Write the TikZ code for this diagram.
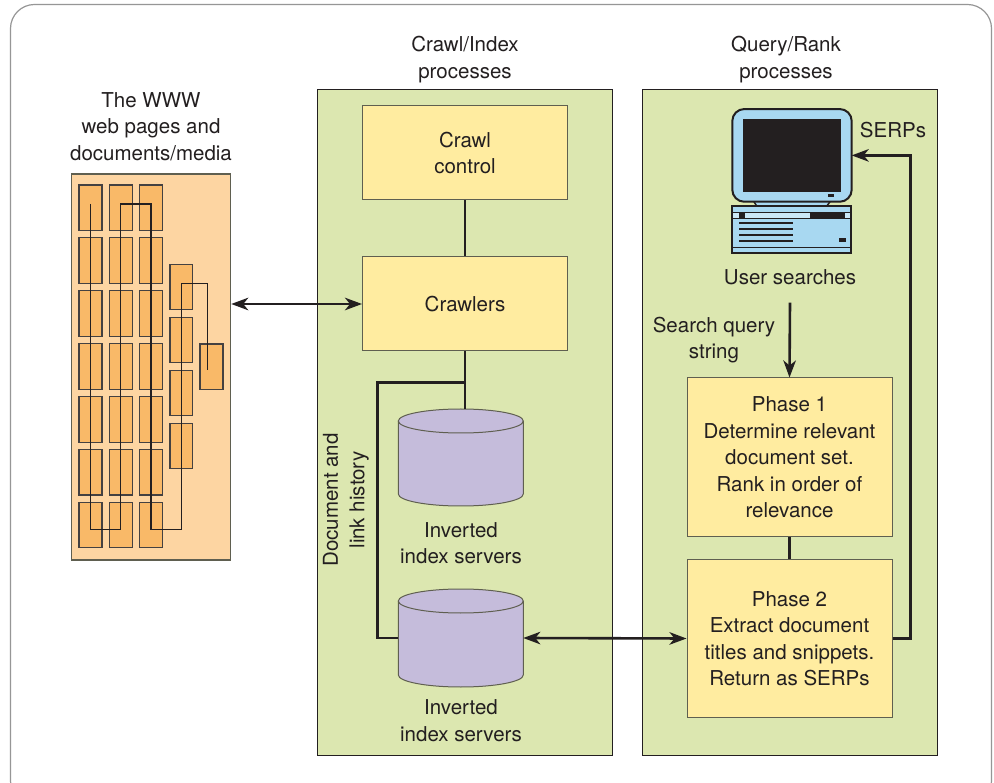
\documentclass[tikz,border=0pt]{standalone}
\usepackage{fontspec}
\setmainfont{TeX Gyre Heros}
\usetikzlibrary{arrows.meta}

\definecolor{panelgreen}{RGB}{220,231,176}
\definecolor{boxyellow}{RGB}{255,236,160}
\definecolor{webpeach}{RGB}{253,213,162}
\definecolor{pageorange}{RGB}{249,185,104}
\definecolor{drumpurple}{RGB}{197,188,219}
\definecolor{screenblue}{RGB}{168,216,241}
\definecolor{inkdark}{RGB}{35,31,32}
\definecolor{edgegray}{RGB}{95,95,80}
\definecolor{framegray}{RGB}{150,150,150}

\newcommand\lblfont{\fontsize{20.5pt}{26.5pt}\selectfont}

\begin{document}
\begin{tikzpicture}[x=1pt,y=-1pt,
  lbl/.style={font=\lblfont, text=inkdark, align=center, inner sep=0pt},
  panel/.style={draw=inkdark, line width=1pt, fill=panelgreen},
  procbox/.style={draw=edgegray, line width=1pt, fill=boxyellow, font=\lblfont,
    text=inkdark, align=center, minimum width=205pt, inner sep=0pt},
  conn/.style={draw=inkdark, line width=2.6pt},
  tip/.style={-{Stealth[length=17pt,width=12.5pt,inset=5pt]}},
  bothtips/.style={{Stealth[length=17pt,width=12.5pt,inset=5pt]}-{Stealth[length=17pt,width=12.5pt,inset=5pt]}},
  webpage/.style={draw=inkdark!85, line width=1.1pt, fill=pageorange},
  drumline/.style={draw=edgegray, line width=1pt},
  placeholder/.style={inner sep=0pt, outer sep=0pt}
]
\useasboundingbox (0,0) rectangle (994,783);
\fill[white] (0,0) rectangle (994,783);

% outer frame
\draw[framegray, line width=1.2pt, rounded corners=24pt] (10.5,4.5) rectangle (991.5,805);

% ---------------- The WWW ----------------
\node[lbl] (wwwlbl) at (151,126.5) {The WWW\\web pages and\\documents/media};
\node[draw=edgegray, line width=1.1pt, fill=webpeach, minimum width=159pt,
      minimum height=386pt, inner sep=0pt] (www) at (151.2,367) {};
\foreach \cx in {79,109.3,139.3}{
  \foreach \i in {0,...,6}{
    \draw[webpage] (\cx,185+52.9*\i) rectangle ++(23,45.5);
  }
}
\foreach \i in {0,...,3}{
  \draw[webpage] (170,264.3+53*\i) rectangle ++(22.7,45.5);
}
\draw[webpage] (200,344) rectangle (223,389.5);
\draw[inkdark, line width=1.2pt]
  (90.3,204) -- (90.3,529.3) -- (120.7,529.3) -- (120.7,204) -- (151,204)
  -- (151,529.3) -- (181.3,529.3) -- (181.3,283.3) -- (207.7,283.3) -- (207.7,370);

% ---------------- Crawl/Index processes ----------------
\node[lbl] (crawlhead) at (465,59.5) {Crawl/Index\\processes};
\node[panel, minimum width=295pt, minimum height=665pt, inner sep=0pt] (crawlpanel) at (464.5,422.5) {};
\node[procbox, minimum height=94pt] (control) at (465,153) {Crawl\\control};
\node[procbox, minimum height=94pt] (crawlers) at (465,304) {Crawlers};

% inverted index drums
\node[placeholder, minimum width=125pt, minimum height=97pt] (inv1) at (460.8,457.5) {};
\node[placeholder, minimum width=125pt, minimum height=98pt] (inv2) at (460.8,638) {};
\foreach \top/\bot in {421/494, 601/675}{
  \fill[drumpurple] (398.3,\top) -- (398.3,\bot)
     arc[start angle=180,end angle=360,x radius=62.5pt,y radius=12pt]
     -- (523.3,\top)
     arc[start angle=0,end angle=180,x radius=62.5pt,y radius=12pt] -- cycle;
  \draw[drumline] (398.3,\top) -- (398.3,\bot)
     arc[start angle=180,end angle=360,x radius=62.5pt,y radius=12pt]
     -- (523.3,\top);
  \draw[drumline] (460.8,\top) ellipse [x radius=62.5pt, y radius=12pt];
}
\node[lbl] (inv1lbl) at (461,543) {Inverted\\index servers};
\node[lbl] (inv2lbl) at (461,720.5) {Inverted\\index servers};
\node[lbl, rotate=90] (histlbl) at (346,500) {Document and\\link history};
\coordinate (histcorner) at (377.3,382.3);

% ---------------- Query/Rank processes ----------------
\node[lbl] (queryhead) at (786,59.5) {Query/Rank\\processes};
\node[panel, minimum width=295pt, minimum height=665pt, inner sep=0pt] (querypanel) at (790,422.5) {};

% user terminal
\node[placeholder, minimum width=119.4pt, minimum height=92.7pt] (monitor) at (792,155.4) {};
\draw[inkdark, line width=1.5pt, fill=screenblue]
  (753.5,201) -- (757,206.5) -- (826.5,206.5) -- (830.5,201);
\draw[inkdark, line width=2pt, fill=screenblue, rounded corners=12pt]
  (monitor.north west) rectangle (monitor.south east);
\fill[inkdark] (743.3,119.3) rectangle (840.7,191.7);
\fill[inkdark] (828.3,194.2) rectangle (834,196.8);
\draw[inkdark, line width=2pt, fill=screenblue] (732.3,206) rectangle (851,252.7);
\fill[screenblue!60!white] (733.3,212.3) rectangle (850,218.3);
\draw[inkdark, line width=0.8pt] (733.3,212.3) -- (850,212.3) (733.3,218.3) -- (850,218.3);
\fill[inkdark] (739,212.3) rectangle (745,218.3);
\fill[inkdark] (810,212.3) rectangle (845,218.3);
\foreach \yy in {223.3,229.3,235.2,241}{
  \draw[inkdark, line width=1.8pt] (739,\yy) -- (793.3,\yy);
}
\fill[inkdark] (839,238.3) rectangle (845.7,241.8);
\draw[inkdark, line width=1.2pt] (733,247.3) -- (850.3,247.3);

\node[lbl] (serps) at (893,130) {SERPs};
\node[lbl] (usersearch) at (790,277) {User searches};
\node[lbl] (querystring) at (714,340) {Search query\\string};
\coordinate (querystart) at (790,302.7);

\node[procbox, minimum height=159pt] (phase1) at (789.5,457.5)
  {Phase 1\\Determine relevant\\document set.\\Rank in order of\\relevance};
\node[procbox, minimum height=158pt] (phase2) at (789.5,638.5)
  {Phase 2\\Extract document\\titles and snippets.\\Return as SERPs};

% ---------------- connectors ----------------
\draw[conn, bothtips] (crawlers.west -| www.east) -- (crawlers.west);
\draw[conn] (control.south) -- (crawlers.north);
\draw[conn] (crawlers.south) -- (crawlers.south |- inv1.north);
\draw[conn] (crawlers.south |- histcorner) -- (histcorner) |- (inv2.west);
\draw[conn, bothtips] (inv2.east) -- (phase2.west);
\draw[conn, tip] (querystart) -- (phase1.north);
\draw[conn] (phase1.south) -- (phase2.north);
\draw[conn, tip] (phase2.east) -- ++(17.8,0) |- (monitor.east);
\end{tikzpicture}
\end{document}
